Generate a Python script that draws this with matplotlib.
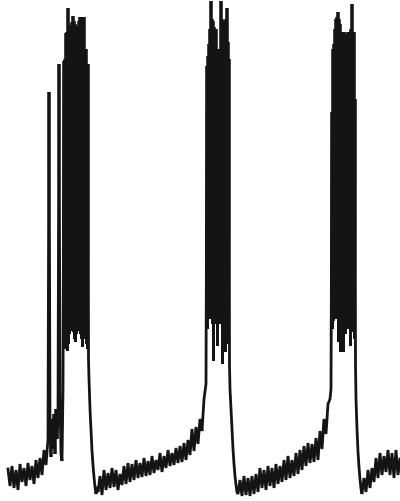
import numpy as np
import matplotlib
matplotlib.use("Agg")
import matplotlib.pyplot as plt

# ---- membrane potential trace (time in s, voltage in mV) ----
# quiet period 1 (before burst 1, incl. two early spikes)
rest1_t = [0.08, 0.10, 0.12, 0.14, 0.16, 0.18, 0.20, 0.22, 0.24, 0.26, 0.28, 0.30,
           0.32, 0.34, 0.36, 0.38, 0.40, 0.42, 0.44, 0.46,
           0.48, 0.49, 0.50, 0.51, 0.52, 0.53, 0.54, 0.55, 0.56, 0.57, 0.58, 0.59,
           0.60, 0.61, 0.62, 0.63]
rest1_v = [-64, -67.4, -63.4, -67.8, -64.2, -68.2, -63, -66.6, -63.8, -67.4, -62.8, -66.2,
           -63.4, -67, -62.2, -65.8, -61.8, -65.2, -60.2, -63.2,
           -58, 11.4, -56, -61.6, -54, -60, -53, -61, -52, -58, -54, 17,
           -50, -61, -62.4, -48]

# burst 1
burst1_t = [0.64, 0.65, 0.66, 0.67, 0.68, 0.69, 0.70, 0.71, 0.72, 0.73, 0.74, 0.75,
            0.76, 0.77, 0.78, 0.79, 0.80, 0.81, 0.82, 0.83, 0.84, 0.85, 0.86, 0.87, 0.88]
burst1_peak = [17.6, 18, 23.2, 23.4, 28.2, 24, 24, 24.8, 25.4, 26.6, 25.6, 25,
               24.4, 24, 24.6, 25.6, 26.4, 26.4, 26.4, 26.4, 26.4, 20, 20, 17, 17]
burst1_trough = [-39, -40, -40, -40.4, -39, -37, -36.4, -36, -36, -36.6, -38, -38.6,
                 -37, -36, -36, -36.4, -37, -38, -39.6, -36.6, -37, -38, -39, -40, -42]

# quiet period 2
rest2_t = [0.89, 0.90, 0.91, 0.92, 0.93, 0.94, 0.95, 0.96, 0.97,
           0.98, 1.00, 1.02, 1.04, 1.06, 1.08, 1.10, 1.12, 1.14, 1.16, 1.18, 1.20,
           1.22, 1.24, 1.26, 1.28, 1.30, 1.32, 1.34, 1.36, 1.38, 1.40, 1.42, 1.44,
           1.46, 1.48, 1.50, 1.52, 1.54, 1.56, 1.58, 1.60, 1.62, 1.64, 1.66, 1.68,
           1.70, 1.72, 1.74, 1.76, 1.78, 1.80, 1.82, 1.84, 1.86, 1.88, 1.90, 1.92,
           1.94, 1.96, 1.98, 2.00, 2.02, 2.04, 2.06]
rest2_v = [-46, -52, -56.4, -60.4, -63.2, -65.6, -67.6, -69, -67.6,
           -68.6, -65.4, -69.2, -64.2, -68.2, -64.8, -67.8, -63.8, -67.6, -64.2, -68.2, -65,
           -67.2, -63.4, -67, -62.8, -66.6, -63, -66.2, -62.2, -65.8, -62.8, -65.6, -61.8,
           -65.4, -62.4, -65.2, -61.4, -64.8, -62.2, -64.2, -60.8, -64.6, -61.4, -63.8, -60.2,
           -63.4, -60.8, -63.2, -59.8, -62.8, -59.4, -62.6, -58.8, -62.2, -58.2, -61.2, -56,
           -60.4, -55.6, -59, -54, -56.4, -50, -47]

# burst 2
burst2_t = [2.07, 2.08, 2.09, 2.10, 2.11, 2.12, 2.13, 2.14, 2.15, 2.16, 2.17, 2.18,
            2.19, 2.20, 2.21, 2.22, 2.23, 2.24, 2.25, 2.26, 2.27, 2.28, 2.29]
burst2_peak = [16.6, 18.6, 21, 24, 29.6, 26, 25.6, 24.4, 24, 24, 20, 19.6,
               19.6, 20, 29.6, 26, 25.6, 25, 24, 26, 28.2, 21.4, 18]
burst2_trough = [-36, -34, -33.6, -33.6, -34, -35, -42.4, -35, -34, -34.4, -39.4, -35,
                 -34, -34, -35, -43, -36, -34.4, -40.6, -35, -36, -39, -43.4]

# quiet period 3
rest3_t = [2.30, 2.31, 2.32, 2.33, 2.34, 2.35, 2.36, 2.37,
           2.38, 2.40, 2.42, 2.44, 2.46, 2.48, 2.50, 2.52, 2.54, 2.56, 2.58, 2.60,
           2.62, 2.64, 2.66, 2.68, 2.70, 2.72, 2.74, 2.76, 2.78, 2.80, 2.82, 2.84,
           2.86, 2.88, 2.90, 2.92, 2.94, 2.96, 2.98, 3.00, 3.02, 3.04, 3.06, 3.08,
           3.10, 3.12, 3.14, 3.16, 3.18, 3.20, 3.22, 3.24, 3.26, 3.28, 3.30, 3.31]
rest3_v = [-48, -52, -56, -60, -63, -65.4, -67.2, -68.6,
           -69, -66.2, -69.4, -65.4, -69.2, -65.8, -69.4, -65.4, -69, -65, -68.6, -63.8,
           -67.8, -64.2, -68.2, -63.4, -67.4, -63.8, -67.8, -63, -67, -63.4, -66.6, -62.2,
           -66.2, -61.4, -65.8, -62.2, -65.4, -60.8, -65, -60.2, -64.2, -59.4, -63.4, -58.8,
           -62.8, -59, -62.6, -57.8, -62.2, -56.4, -60, -54, -57, -51, -50, -48]

# burst 3
burst3_t = [3.32, 3.33, 3.34, 3.35, 3.36, 3.37, 3.38, 3.39, 3.40, 3.41, 3.42, 3.43,
            3.44, 3.45, 3.46, 3.47, 3.48, 3.49, 3.50, 3.51, 3.52, 3.53, 3.54, 3.55]
burst3_peak = [7.4, 20, 21, 24, 26, 26.4, 27.4, 26, 25, 23.4, 23, 23,
               23.4, 23, 22.6, 22.6, 23.4, 23, 23, 24, 29, 23.4, 23.4, 10]
burst3_trough = [-36, -34.4, -33.6, -33.6, -34, -34, -38.6, -34.4, -40.6, -35, -38.4, -40.6,
                 -35, -37, -34, -34.4, -36, -35, -39.4, -34.4, -34, -36.6, -38, -43]

# quiet period 4
rest4_t = [3.56, 3.57, 3.58, 3.59, 3.60, 3.61,
           3.62, 3.64, 3.66, 3.68, 3.70, 3.72, 3.74, 3.76, 3.78, 3.80, 3.82, 3.84,
           3.86, 3.88, 3.90, 3.92, 3.94, 3.96, 3.98, 4.00]
rest4_v = [-50, -56, -60.6, -63.6, -66, -68,
           -69, -65.8, -68.6, -64.2, -67.8, -63.8, -66.6, -61.8, -65.8, -60.8, -65.2, -61.4,
           -64.6, -60.2, -65.2, -60.8, -65.8, -60.2, -65.2, -62]


def burst_points(times, peaks, troughs):
    t, v = [], []
    for ti, pk, tr in zip(times, peaks, troughs):
        t += [ti, ti + 0.005]
        v += [pk, tr]
    return t, v


t_all, v_all = [], []
for seg in (
    (rest1_t, rest1_v),
    burst_points(burst1_t, burst1_peak, burst1_trough),
    (rest2_t, rest2_v),
    burst_points(burst2_t, burst2_peak, burst2_trough),
    (rest3_t, rest3_v),
    burst_points(burst3_t, burst3_peak, burst3_trough),
    (rest4_t, rest4_v),
):
    t_all += list(seg[0])
    v_all += list(seg[1])

fig = plt.figure(figsize=(4.0, 5.02), dpi=100)
ax = fig.add_axes([0, 0, 1, 1])
ax.plot(t_all, v_all, color="#141414", linewidth=2.0, solid_joinstyle="miter")
ax.set_xlim(0, 4.0)
ax.set_ylim(-70.4, 30)
ax.axis("off")
fig.savefig("out.png", dpi=100, facecolor="white")
